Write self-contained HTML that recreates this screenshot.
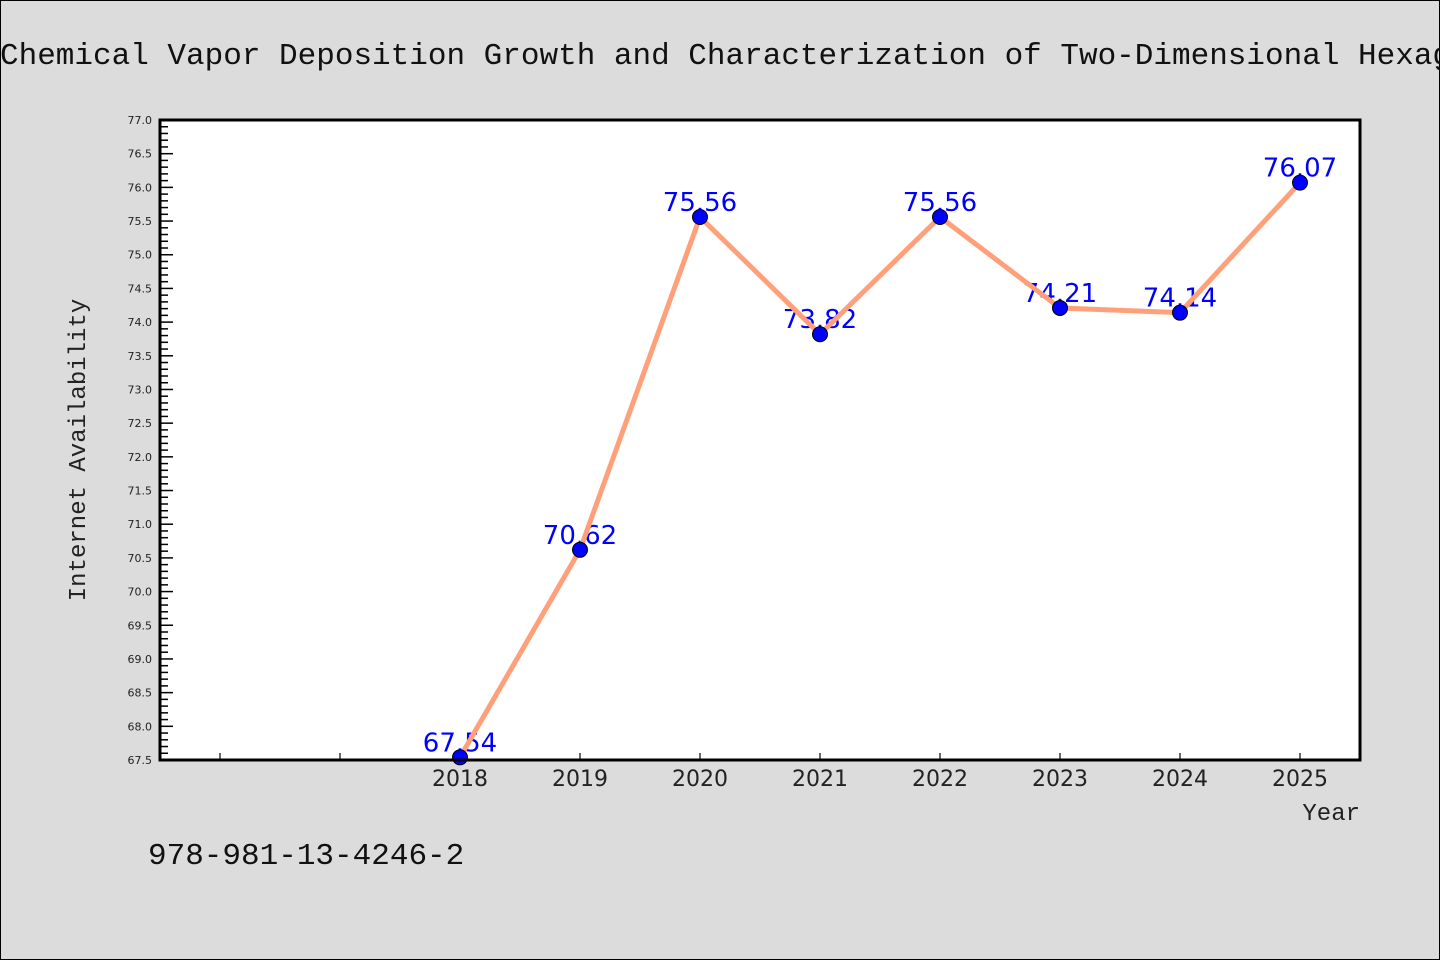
<!DOCTYPE html>
<html><head><meta charset="utf-8"><style>
html,body{margin:0;padding:0;background:#dcdcdc;}
svg{display:block;}
</style></head><body>
<svg id="chart" width="1440" height="960" xmlns="http://www.w3.org/2000/svg">
<rect x="0.5" y="0.5" width="1439" height="959" fill="#dcdcdc" stroke="#000" stroke-width="1"/>
<text x="0" y="64" font-family="'Liberation Mono','WenQuanYi Zen Hei',monospace" font-size="31" fill="#111">Chemical Vapor Deposition Growth and Characterization of Two-Dimensional Hexagonal</text>
<rect x="160" y="120" width="1200" height="640" fill="#fff"/>
<g id="yaxis"></g>
<g id="xaxis"></g>
<g id="labels"></g>
<g id="series"></g>
<rect x="160" y="120" width="1200" height="640" fill="none" stroke="#000" stroke-width="3"/>
<text transform="translate(85,450) rotate(-90)" text-anchor="middle" font-family="'Liberation Mono','WenQuanYi Zen Hei',monospace" font-size="24" fill="#222">Internet Availability</text>
<text x="1360" y="820" text-anchor="end" font-family="'Liberation Mono','WenQuanYi Zen Hei',monospace" font-size="24" fill="#222">Year</text>
<text x="148" y="864" font-family="'Liberation Mono','WenQuanYi Zen Hei',monospace" font-size="31" fill="#111">978-981-13-4246-2</text>
</svg>
<script>
const categories = [2018, 2019, 2020, 2021, 2022, 2023, 2024, 2025];
const values = [67.54, 70.62, 75.56, 73.82, 75.56, 74.21, 74.14, 76.07];
const valueLabels = ["67.54", "70.62", "75.56", "73.82", "75.56", "74.21", "74.14", "76.07"];
const yMin = 67.5, yMax = 77.0;
const xMin = 2015.5, xMax = 2025.5;
const NS = "http://www.w3.org/2000/svg";
function X(v){return 160 + (v - xMin) / (xMax - xMin) * 1200;}
function Y(v){return 760 - (v - yMin) / (yMax - yMin) * 640;}
function mk(tag, attrs, parent){const e=document.createElementNS(NS,tag);for(const k in attrs)e.setAttribute(k,attrs[k]);parent.appendChild(e);return e;}
const ya=document.getElementById('yaxis');
for(let i=0;i<=95;i++){
  const v=yMin+i*0.1, y=Y(v), major=(i%5===0);
  const t=mk('line',{x1:160,x2:major?173:168,y1:y,y2:y,stroke:'#000','stroke-width':1.5},ya);
  
  
  if(major){
    const l=mk('text',{x:152,y:y+4,'text-anchor':'end','font-family':"'DejaVu Sans',sans-serif",'font-size':11,fill:'#222'},ya);
    l.textContent=v.toFixed(1);
    
    
  }
}
const xa=document.getElementById('xaxis');
for(let c=2016;c<=2025;c++){
  const t=mk('line',{x1:X(c),x2:X(c),y1:760,y2:753,stroke:'#000','stroke-width':1.2},xa);
  
  
}
categories.forEach(c=>{
  const l=mk('text',{x:X(c),y:786,'text-anchor':'middle','font-family':"'DejaVu Sans',sans-serif",'font-size':22,fill:'#222'},xa);
  l.textContent=String(c);
  
  
});
const lg=document.getElementById('labels');
categories.forEach((c,i)=>{
  const l=mk('text',{x:X(c),y:Y(values[i])-6,'text-anchor':'middle','font-family':"'DejaVu Sans',sans-serif",'font-size':26,fill:'#0000ff'},lg);
  l.textContent=valueLabels[i];
  
  
});
const sg=document.getElementById('series');
const pts=categories.map((c,i)=>X(c)+','+Y(values[i])).join(' ');
const pl=mk('polyline',{points:pts,fill:'none',stroke:'#ffa07a','stroke-width':5,'stroke-linejoin':'round'},sg);


categories.forEach((c,i)=>{
  const m=mk('circle',{cx:X(c),cy:Y(values[i]),r:7.5,fill:'#0000ff',stroke:'#000','stroke-width':1},sg);
  
  
});
</script>
</body></html>
